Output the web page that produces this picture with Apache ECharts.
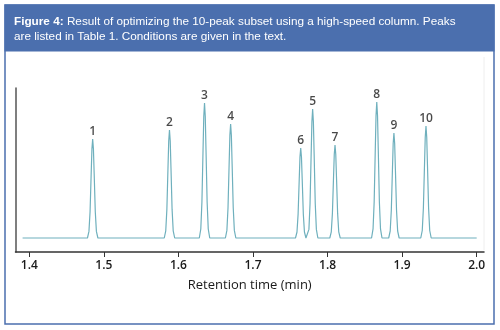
<!DOCTYPE html>
<html>
<head>
<meta charset="utf-8">
<script src="https://cdn.jsdelivr.net/npm/echarts@6/dist/echarts.min.js"></script>
<style>
  html, body { margin: 0; padding: 0; background: #fff; }
  #chart { width: 500px; height: 330px; }
</style>
</head>
<body>
<div id="chart"></div>
<script>
// ---- Data ----
var titleBold = 'Figure 4:';
var titleRest1 = ' Result of optimizing the 10-peak subset using a high-speed column. Peaks';
var titleLine2 = 'are listed in Table 1. Conditions are given in the text.';
var xAxisName = 'Retention time (min)';
var tickValues = [1.4, 1.5, 1.6, 1.7, 1.8, 1.9, 2.0];

var peakLabels  = ['1', '2', '3', '4', '6', '5', '7', '8', '9', '10'];
var peakTimes   = [1.485, 1.588, 1.635, 1.670, 1.764, 1.780, 1.810, 1.866, 1.889, 1.932];
var peakHeights = [99, 108, 135, 114, 90, 129, 93, 136, 105, 112];

// chromatogram trace [time (min), signal]
var trace = [
  [1.391, 0],
  [1.478, 0], [1.480, 6.6], [1.4815, 26.2], [1.483, 64.4], [1.484, 89.1], [1.485, 99], [1.486, 89.1], [1.487, 64.4], [1.4885, 26.2], [1.490, 6.6], [1.492, 0],
  [1.581, 0], [1.583, 7.2], [1.5845, 28.6], [1.586, 70.2], [1.587, 97.2], [1.588, 108], [1.589, 97.2], [1.590, 70.2], [1.5915, 28.6], [1.593, 7.2], [1.595, 0],
  [1.628, 0], [1.630, 9.0], [1.6315, 35.8], [1.633, 87.8], [1.634, 121.5], [1.635, 135], [1.636, 121.5], [1.637, 87.8], [1.6385, 35.8], [1.640, 9.0], [1.642, 0],
  [1.663, 0], [1.665, 7.6], [1.6665, 30.2], [1.668, 74.1], [1.669, 102.6], [1.670, 114], [1.671, 102.6], [1.672, 74.1], [1.6735, 30.2], [1.675, 7.6], [1.677, 0],
  [1.757, 0], [1.759, 6.0], [1.7605, 23.9], [1.762, 58.5], [1.763, 81], [1.764, 90], [1.765, 81], [1.766, 58.5], [1.7675, 23.9], [1.769, 6.0], [1.771, 0],
  [1.773, 0], [1.775, 8.6], [1.7765, 34.2], [1.778, 83.9], [1.779, 116.1], [1.780, 129], [1.781, 116.1], [1.782, 83.9], [1.7835, 34.2], [1.785, 8.6], [1.787, 0],
  [1.803, 0], [1.805, 6.2], [1.8065, 24.6], [1.808, 60.5], [1.809, 83.7], [1.810, 93], [1.811, 83.7], [1.812, 60.5], [1.8135, 24.6], [1.815, 6.2], [1.817, 0],
  [1.859, 0], [1.861, 9.1], [1.8625, 36.0], [1.864, 88.4], [1.865, 122.4], [1.866, 136], [1.867, 122.4], [1.868, 88.4], [1.8695, 36.0], [1.871, 9.1], [1.873, 0],
  [1.882, 0], [1.884, 7.0], [1.8855, 27.8], [1.887, 68.3], [1.888, 94.5], [1.889, 105], [1.890, 94.5], [1.891, 68.3], [1.8925, 27.8], [1.894, 7.0], [1.896, 0],
  [1.925, 0], [1.927, 7.5], [1.9285, 29.7], [1.930, 72.8], [1.931, 100.8], [1.932, 112], [1.933, 100.8], [1.934, 72.8], [1.9355, 29.7], [1.937, 7.5], [1.939, 0],
  [2.000, 0]
];

// ---- Chart ----
var chart = echarts.init(document.getElementById('chart'), null, { renderer: 'canvas' });

var labelData = peakTimes.map(function (t, i) {
  return { value: [t, peakHeights[i]], label: { formatter: peakLabels[i] } };
});

var blue = '#4b6fae';
var titleFont = 'Liberation Sans, Arial, sans-serif';

chart.setOption({
  animation: false,
  backgroundColor: '#ffffff',
  graphic: [
    { type: 'rect', shape: { x: 5, y: 5, width: 489, height: 319 },
      style: { fill: '#ffffff', stroke: blue, lineWidth: 1.5 }, z: -10 },
    { type: 'rect', shape: { x: 4.5, y: 4.5, width: 490, height: 47 },
      style: { fill: blue }, z: -9 },
    { type: 'line', shape: { x1: 484, y1: 57, x2: 484, y2: 250 },
      style: { stroke: '#eeeeee', lineWidth: 1 }, z: -8 }
  ],
  title: {
    left: 14,
    top: 14,
    padding: 0,
    text: '{b|' + titleBold + '}{r|' + titleRest1 + '}\n{r|' + titleLine2 + '}',
    textStyle: {
      fontFamily: titleFont,
      fontSize: 11.75,
      fontWeight: 'normal',
      color: '#ffffff',
      lineHeight: 15,
      rich: {
        b: { fontFamily: titleFont, fontSize: 11.75, fontWeight: 'bold', color: '#ffffff', lineHeight: 15 },
        r: { fontFamily: titleFont, fontSize: 11.75, fontWeight: 'normal', color: '#ffffff', lineHeight: 15 }
      }
    }
  },
  grid: { left: 15.5, right: 16, top: 88, bottom: 78, containLabel: false },
  xAxis: {
    type: 'value',
    min: 1.3815,
    max: 2.0098,
    name: xAxisName,
    nameLocation: 'middle',
    nameGap: 27,
    nameTextStyle: { fontFamily: 'Open Sans, sans-serif', fontSize: 13, fontWeight: 500, color: '#1a1a1a' },
    axisLine: { show: true, onZero: false, lineStyle: { color: '#333', width: 1.5 } },
    axisTick: { show: true, length: 5, customValues: tickValues, lineStyle: { color: '#333', width: 1 } },
    axisLabel: {
      customValues: tickValues,
      margin: 8,
      fontFamily: 'Open Sans, sans-serif',
      fontSize: 12,
      fontWeight: 600,
      color: '#1a1a1a',
      formatter: function (v) { return v.toFixed(1); }
    },
    splitLine: { show: false }
  },
  yAxis: {
    type: 'value',
    min: -14,
    max: 150,
    axisLine: { show: true, onZero: false, lineStyle: { color: '#555', width: 1.5 } },
    axisTick: { show: false },
    axisLabel: { show: false },
    splitLine: { show: false }
  },
  series: [
    {
      type: 'line',
      data: trace,
      showSymbol: false,
      sampling: null,
      lineStyle: { color: '#6fb0bd', width: 1.2 },
      z: 2
    },
    {
      type: 'scatter',
      data: labelData,
      symbolSize: 0,
      silent: true,
      label: {
        show: true,
        position: 'top',
        distance: 1,
        fontFamily: 'Open Sans, sans-serif',
        fontSize: 12,
        fontWeight: 600,
        color: '#1a1a1a'
      },
      z: 3
    }
  ]
});
</script>
</body>
</html>
